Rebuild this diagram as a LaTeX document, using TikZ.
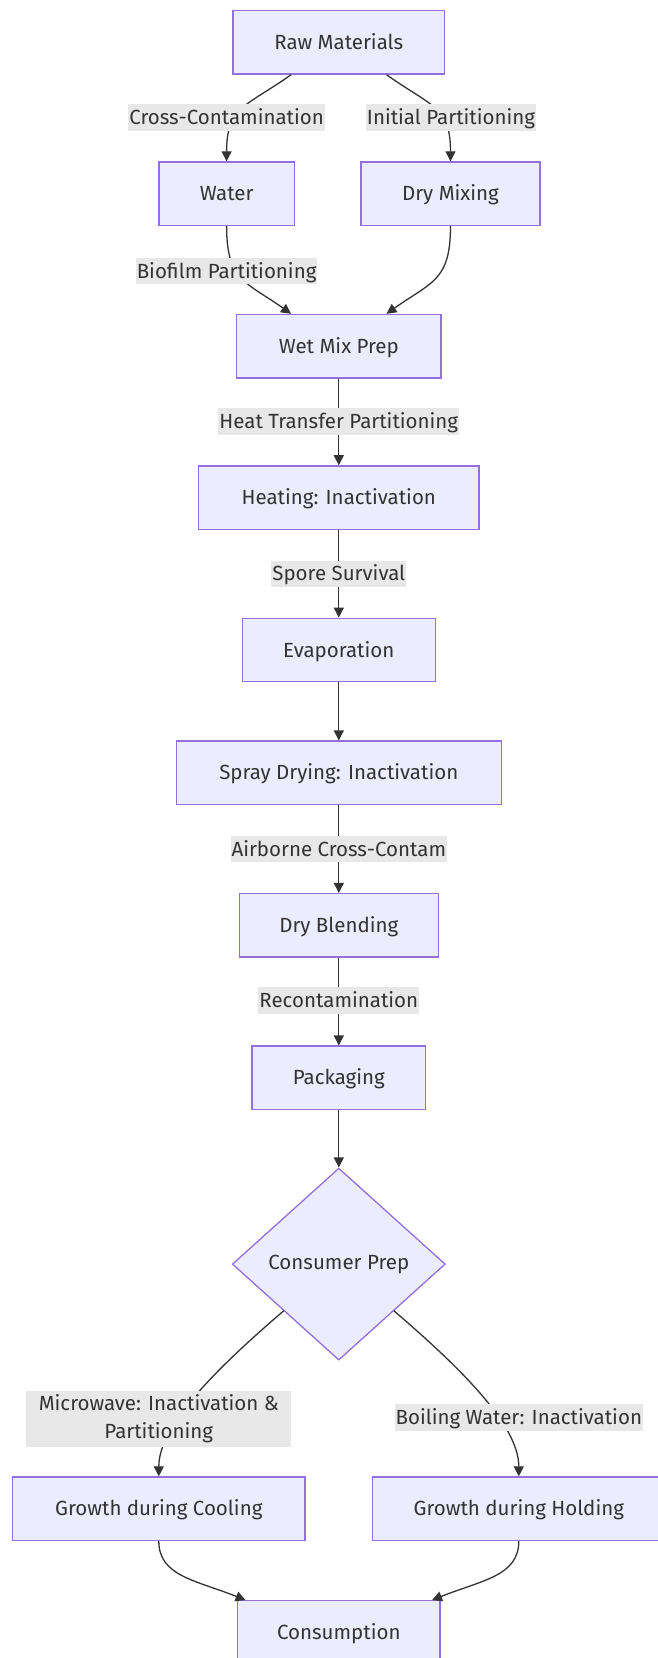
\documentclass[tikz,border=0pt]{standalone}
\usepackage{fontspec}
\setmainfont{Fira Sans}
\usetikzlibrary{arrows.meta,shapes.geometric}
\definecolor{nodefill}{HTML}{ECECFF}
\definecolor{nodeline}{HTML}{9370DB}
\definecolor{lblbg}{HTML}{E8E8E8}
\definecolor{txt}{HTML}{333333}
\begin{document}
\begin{tikzpicture}[x=1pt,y=-1pt,
  box/.style={draw=nodeline, fill=nodefill, line width=1.3pt, minimum height=63.5pt, inner sep=0pt, text height=14.5pt, text depth=0.5pt, text=txt, font=\fontsize{20.5}{24}\selectfont},
  dia/.style={diamond, draw=nodeline, fill=nodefill, line width=1.3pt, minimum width=213pt, minimum height=192pt, inner sep=0pt, text=txt, font=\fontsize{20.5}{24}\selectfont},
  lbl/.style={fill=lblbg, text=txt, inner xsep=1pt, inner ysep=0pt, minimum height=26.5pt, text height=14.5pt, text depth=0.5pt, font=\fontsize{20.5}{24}\selectfont},
  conn/.style={draw=txt, line width=1.3pt, -{Triangle[length=10pt,width=10pt]}}]
\useasboundingbox (0,0) rectangle (657,1658);
% nodes
\node[box, minimum width=211.7pt] (raw) at (338.8,42.3) {Raw Materials};
\node[box, minimum width=135.5pt] (water) at (226.6,193.7) {Water};
\node[box, minimum width=178.9pt] (dry) at (450.5,193.7) {Dry Mixing};
\node[box, minimum width=204.3pt] (wet) at (338.8,346.2) {Wet Mix Prep};
\node[box, minimum width=280.6pt] (heat) at (338.8,497.6) {Heating: Inactivation};
\node[box, minimum width=192.7pt] (evap) at (338.8,650.0) {Evaporation};
\node[box, minimum width=325.0pt] (spray) at (338.8,772.8) {Spray Drying: Inactivation};
\node[box, minimum width=199.0pt] (blend) at (338.8,925.3) {Dry Blending};
\node[box, minimum width=173.6pt] (pack) at (338.8,1077.8) {Packaging};
\node[dia] (cons) at (338.8,1264.1) {Consumer Prep};
\node[box, minimum width=292.2pt] (cool) at (158.8,1508.7) {Growth during Cooling};
\node[box, minimum width=292.2pt] (hold) at (518.8,1508.7) {Growth during Holding};
\node[box, minimum width=202.2pt] (eat) at (338.8,1632.5) {Consumption};
% connectors
\draw[conn] ([xshift=-47.7pt]raw.south) .. controls +(-45,32) and +(0,-55) .. (water.north);
\draw[conn] ([xshift=47.7pt]raw.south) .. controls +(45,32) and +(0,-55) .. (dry.north);
\draw[conn] (water.south) .. controls +(0,55) and +(-45,-32) .. ([xshift=-47.7pt]wet.north);
\draw[conn] (dry.south) .. controls +(0,55) and +(45,-32) .. ([xshift=47.7pt]wet.north);
\draw[conn] (wet.south) -- (heat.north);
\draw[conn] (heat.south) -- (evap.north);
\draw[conn] (evap.south) -- (spray.north);
\draw[conn] (spray.south) -- (blend.north);
\draw[conn] (blend.south) -- (pack.north);
\draw[conn] (pack.south) -- (cons.north);
\draw[conn] ([xshift=-55pt,yshift=-46.6pt]cons.center) .. controls +(-70,60) and +(0,-50) .. (cool.north);
\draw[conn] ([xshift=55pt,yshift=-46.6pt]cons.center) .. controls +(70,60) and +(0,-50) .. (hold.north);
\draw[conn] (cool.south) .. controls +(0,35) and +(-50,-20) .. ([xshift=-93.2pt]eat.north);
\draw[conn] (hold.south) .. controls +(0,35) and +(50,-20) .. ([xshift=93.2pt]eat.north);
% labels
\node[lbl] (l1) at (226.6,117.5) {Cross-Contamination};
\node[lbl] (l2) at (451.0,117.5) {Initial Partitioning};
\node[lbl] (l3) at (226.6,271.0) {Biofilm Partitioning};
\node[lbl] (l4) at (338.8,421.4) {Heat Transfer Partitioning};
\node[lbl] (l5) at (338.8,573.8) {Spore Survival};
\node[lbl] (l6) at (338.8,849.0) {Airborne Cross-Contam};
\node[lbl] (l7) at (338.8,1000.5) {Recontamination};
\node[lbl, minimum width=264.7pt, minimum height=56pt, text height=, text depth=, align=center, font=\fontsize{20.5}{27.5}\selectfont] (l8) at (158.8,1418.7) {Microwave: Inactivation \&\\Partitioning};
\node[lbl] (l9) at (518.8,1417.7) {Boiling Water: Inactivation};
\end{tikzpicture}
\end{document}
